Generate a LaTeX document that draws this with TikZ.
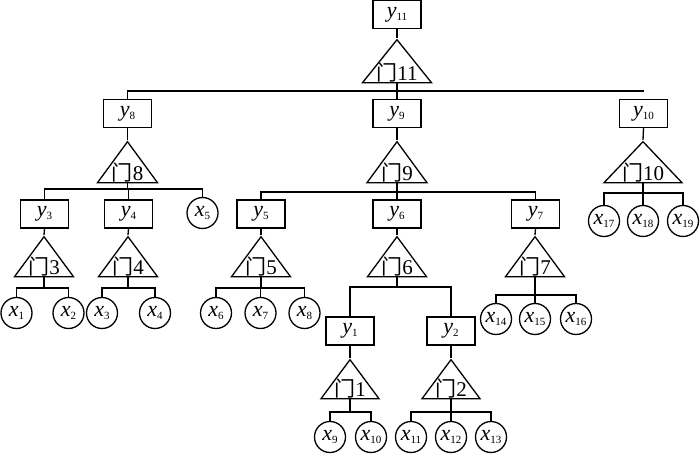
\documentclass[tikz,border=0pt]{standalone}
\usepackage{fontspec}
\setmainfont{Liberation Serif}
\newfontfamily\cjk{Noto Sans CJK SC}
\usetikzlibrary{shapes.geometric}

% event label: italic letter with small upright index
\newcommand{\ev}[2]{\textit{#1}\raisebox{-0.3ex}{\fontsize{11}{11}\selectfont #2}}

\begin{document}
\begin{tikzpicture}[x=1pt, y=-1pt, line width=1.3pt,
    event/.style={draw, rectangle, minimum width=48pt, minimum height=28pt,
        inner sep=0pt, font=\fontsize{22}{22}\selectfont},
    basic/.style={draw, circle, minimum size=31pt, inner sep=0pt,
        font=\fontsize{22}{22}\selectfont},
    gate/.style={draw, isosceles triangle, isosceles triangle stretches,
        shape border rotate=90, inner sep=0pt, anchor=apex,
        minimum width=60pt, minimum height=41pt},
    gatetext/.style={anchor=south, inner sep=0.5pt, font=\fontsize{21}{21}\selectfont}
]
    \useasboundingbox (0,0) rectangle (700,454);

    % top event
    \node[event] (y11) at (397,14.5) {\ev{y}{11}};
    \node[gate, minimum width=69pt, minimum height=43pt] (g11) at (397,38) {};
    \node[gatetext] (t11) at (g11.lower side) {{\cjk 门}11};
    \coordinate (b11) at (397,91);

    % second level
    \node[event] (y8) at (127.5,113.5) {\ev{y}{8}};
    \node[event] (y9) at (397,113.5) {\ev{y}{9}};
    \node[event] (y10) at (643.5,113.5) {\ev{y}{10}};
    \node[gate] (g8) at (127.5,140) {};
    \node[gate] (g9) at (397,140) {};
    \node[gate, minimum width=78pt] (g10) at (643,140) {};
    \node[gatetext] (t8) at (g8.lower side) {{\cjk 门}8};
    \node[gatetext] (t9) at (g9.lower side) {{\cjk 门}9};
    \node[gatetext] (t10) at (g10.lower side) {{\cjk 门}10};
    \coordinate (b8) at (127.5,189);
    \coordinate (b9) at (397,192);
    \coordinate (b10) at (643,193);

    % third level
    \node[event] (y3) at (44.5,214) {\ev{y}{3}};
    \node[event] (y4) at (128.5,214) {\ev{y}{4}};
    \node[basic] (x5) at (202.5,213) {\ev{x}{5}};
    \node[event] (y5) at (261,214) {\ev{y}{5}};
    \node[event] (y6) at (397,214) {\ev{y}{6}};
    \node[event] (y7) at (535.5,214) {\ev{y}{7}};
    \node[basic] (x17) at (604,221) {\ev{x}{17}};
    \node[basic] (x18) at (643,221) {\ev{x}{18}};
    \node[basic] (x19) at (683,221) {\ev{x}{19}};
    \foreach \g/\px in {3/44, 4/128, 5/261, 6/397, 7/535} {
        \node[gate, minimum width=59pt, minimum height=40pt] (g\g) at (\px,235) {};
        \node[gatetext] (t\g) at (g\g.lower side) {{\cjk 门}\g};
    }
    \coordinate (b3) at (44,288);
    \coordinate (b4) at (128,288);
    \coordinate (b5) at (261,288);
    \coordinate (b6) at (397,287);
    \coordinate (b7) at (535,295);

    % fourth level
    \node[basic] (x1) at (16.5,313) {\ev{x}{1}};
    \node[basic] (x2) at (68.5,313) {\ev{x}{2}};
    \node[basic] (x3) at (102,313) {\ev{x}{3}};
    \node[basic] (x4) at (155,313) {\ev{x}{4}};
    \node[basic] (x6) at (216,313) {\ev{x}{6}};
    \node[basic] (x7) at (260.5,313) {\ev{x}{7}};
    \node[basic] (x8) at (304.5,313) {\ev{x}{8}};
    \node[event] (y1) at (350,331) {\ev{y}{1}};
    \node[event] (y2) at (451,331) {\ev{y}{2}};
    \node[basic] (x14) at (496,319) {\ev{x}{14}};
    \node[basic] (x15) at (535,319) {\ev{x}{15}};
    \node[basic] (x16) at (576,319) {\ev{x}{16}};
    \node[gate, minimum width=58pt, minimum height=39pt] (g1) at (350,358) {};
    \node[gate, minimum width=58pt, minimum height=39pt] (g2) at (451,358) {};
    \node[gatetext] (t1) at (g1.lower side) {{\cjk 门}1};
    \node[gatetext] (t2) at (g2.lower side) {{\cjk 门}2};
    \coordinate (b1) at (350,412);
    \coordinate (b2) at (451,412);

    % bottom level
    \node[basic] (x9) at (330,437) {\ev{x}{9}};
    \node[basic] (x10) at (371,437) {\ev{x}{10}};
    \node[basic] (x11) at (411,437) {\ev{x}{11}};
    \node[basic] (x12) at (451,437) {\ev{x}{12}};
    \node[basic] (x13) at (491,437) {\ev{x}{13}};

    % events into their gates
    \foreach \e in {11,8,9,10,3,4,5,6,7,1,2}
        \draw (y\e.south) -- (g\e.apex);
    \foreach \e in {11,8,9,10,3,4,5,6,7,1,2}
        \draw (g\e.lower side) -- (b\e);

    % gate outputs down to their inputs
    \draw (b11) -| (y8.north);
    \draw (b11) -- (y9.north);
    \draw (b11) -- (b11 -| y10.north);
    \foreach \c in {y3,y4,x5} \draw (b8) -| (\c.north);
    \foreach \c in {y5,y6,y7} \draw (b9) -| (\c.north);
    \foreach \c in {x17,x18,x19} \draw (b10) -| (\c.north);
    \foreach \c in {x1,x2} \draw (b3) -| (\c.north);
    \foreach \c in {x3,x4} \draw (b4) -| (\c.north);
    \foreach \c in {x6,x7,x8} \draw (b5) -| (\c.north);
    \foreach \c in {y1,y2} \draw (b6) -| (\c.north);
    \foreach \c in {x14,x15,x16} \draw (b7) -| (\c.north);
    \foreach \c in {x9,x10} \draw (b1) -| (\c.north);
    \foreach \c in {x11,x12,x13} \draw (b2) -| (\c.north);
\end{tikzpicture}
\end{document}
